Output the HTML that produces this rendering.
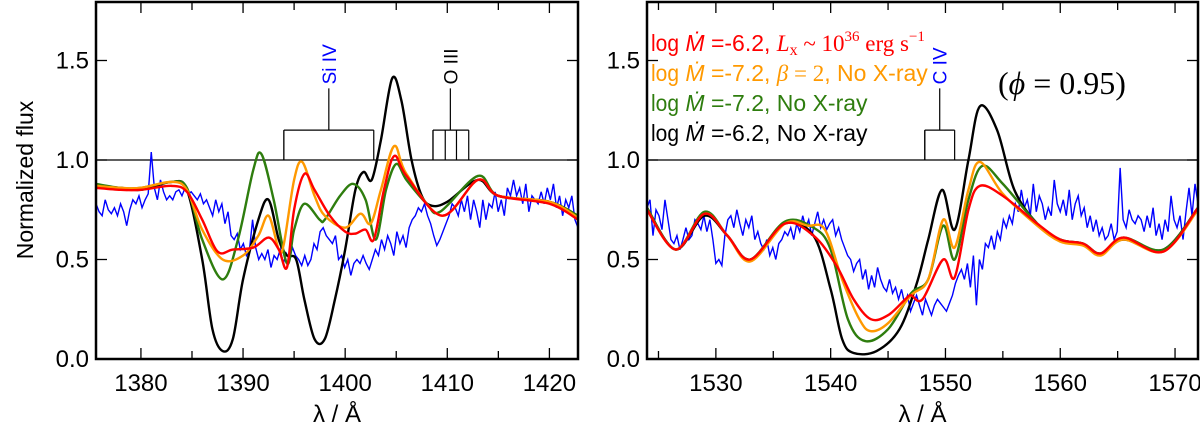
<!DOCTYPE html>
<html><head><meta charset="utf-8"><style>
body{margin:0;background:#fff;}
svg{display:block;font-family:"Liberation Sans",sans-serif;}
</style></head><body>
<svg id="c" width="1200" height="433" viewBox="0 0 1200 433"></svg>
<script>
// ---- data ----
const leftTicks=[1380,1390,1400,1410,1420];
const rightTicks=[1530,1540,1550,1560,1570];
const yTicks=[0.0,0.5,1.0,1.5];
const yTickLabels=["0.0","0.5","1.0","1.5"];
// left panel (Si IV)
const L_black_x=[1375.6,1378,1380,1383,1384.5,1386,1387,1388,1389,1390,1391.5,1392.5,1393.5,1394.3,1395.2,1396,1397,1398,1399,1400,1401,1401.8,1402.6,1403.5,1404.6,1405.5,1406.5,1407.5,1408.5,1410,1413,1415,1420,1422.8];
const L_black_y=[0.87,0.86,0.85,0.89,0.85,0.5,0.15,0.04,0.1,0.4,0.7,0.8,0.6,0.52,0.5,0.3,0.1,0.1,0.3,0.55,0.85,0.94,0.9,1.1,1.41,1.3,1.0,0.82,0.77,0.79,0.9,0.82,0.79,0.72];
const L_green_x=[1375.6,1378,1380,1383,1384.5,1386,1388,1389.5,1391,1391.8,1393,1394.3,1395,1396,1397.5,1398,1399.5,1400.8,1402,1403,1404,1405,1406,1408,1409.3,1413,1415,1420,1422.8];
const L_green_y=[0.88,0.86,0.86,0.89,0.86,0.6,0.4,0.6,0.95,1.03,0.8,0.48,0.65,0.78,0.7,0.7,0.82,0.88,0.8,0.6,0.85,0.98,0.9,0.78,0.74,0.92,0.82,0.79,0.72];
const L_orange_x=[1375.6,1378,1380,1383,1384.5,1386,1388,1390,1391.5,1392.5,1393.5,1394,1395,1395.8,1397,1398,1400,1401.5,1402.5,1403.5,1404.8,1406,1409.5,1413,1415,1420,1422.8];
const L_orange_y=[0.87,0.86,0.86,0.89,0.85,0.65,0.5,0.52,0.62,0.72,0.55,0.58,0.9,0.99,0.82,0.72,0.66,0.73,0.68,0.85,1.07,0.93,0.72,0.9,0.82,0.79,0.71];
const L_red_x=[1375.6,1378,1380,1383,1384.5,1386,1387.5,1389,1391,1392.5,1393.5,1394.3,1395,1396,1397,1398.5,1400,1401,1402,1402.8,1403.8,1404.8,1406,1409.5,1413,1415,1420,1422.8];
const L_red_y=[0.86,0.85,0.85,0.87,0.84,0.7,0.54,0.55,0.56,0.61,0.55,0.46,0.75,0.93,0.85,0.72,0.64,0.63,0.65,0.6,0.85,1.02,0.92,0.72,0.9,0.82,0.78,0.7];
const L_obs_start=1375.6, L_obs_end=1422.8;
const L_obs=[0.78,0.74,0.72,0.8,0.75,0.73,0.76,0.72,0.78,0.74,0.67,0.75,0.8,0.78,0.82,0.76,0.8,0.83,1.04,0.86,0.8,0.9,0.84,0.8,0.82,0.8,0.84,0.85,0.82,0.86,0.83,0.84,0.82,0.8,0.83,0.78,0.8,0.76,0.72,0.8,0.74,0.78,0.68,0.74,0.62,0.6,0.63,0.55,0.58,0.52,0.55,0.7,0.56,0.5,0.53,0.5,0.55,0.46,0.52,0.5,0.55,0.48,0.53,0.5,0.56,0.52,0.5,0.47,0.52,0.47,0.5,0.58,0.55,0.64,0.66,0.62,0.6,0.58,0.62,0.5,0.52,0.46,0.5,0.42,0.48,0.5,0.48,0.52,0.48,0.45,0.5,0.55,0.52,0.6,0.55,0.62,0.58,0.52,0.64,0.58,0.62,0.56,0.66,0.7,0.72,0.76,0.74,0.78,0.72,0.68,0.62,0.57,0.6,0.64,0.68,0.72,0.78,0.76,0.72,0.8,0.74,0.82,0.7,0.8,0.74,0.66,0.8,0.7,0.78,0.76,0.84,0.74,0.8,0.72,0.86,0.82,0.9,0.82,0.86,0.78,0.88,0.74,0.82,0.8,0.78,0.84,0.78,0.86,0.8,0.88,0.76,0.82,0.72,0.8,0.76,0.82,0.7,0.66];
// right panel (C IV)
const R_black_x=[1524,1526.5,1529,1531,1533,1536,1538.5,1540,1541,1542,1544,1546,1547.5,1548.5,1549.7,1550.8,1552,1553,1554.5,1556,1558,1560,1562,1563.5,1565.5,1569,1572];
const R_black_y=[0.76,0.55,0.72,0.62,0.5,0.68,0.62,0.35,0.1,0.03,0.04,0.15,0.38,0.6,0.85,0.65,1.0,1.27,1.15,0.85,0.68,0.6,0.58,0.53,0.6,0.55,0.76];
const R_green_x=[1524,1526.5,1529,1531,1533,1536,1538.5,1540,1541.5,1543,1545,1547,1548.5,1549.8,1550.8,1552,1553.2,1555,1558,1560,1562,1563.5,1565.5,1569,1572];
const R_green_y=[0.76,0.55,0.74,0.62,0.5,0.69,0.66,0.55,0.2,0.09,0.15,0.33,0.4,0.67,0.5,0.8,0.97,0.88,0.68,0.6,0.58,0.53,0.61,0.55,0.76];
const R_orange_x=[1524,1526.5,1529,1531,1533,1536,1538,1539.5,1541,1542.5,1543.5,1545,1547,1548.5,1549.8,1550.8,1552,1553,1555,1558,1560,1562,1563.5,1565.5,1569,1572];
const R_orange_y=[0.75,0.55,0.73,0.62,0.49,0.68,0.67,0.65,0.4,0.2,0.14,0.18,0.32,0.4,0.7,0.56,0.85,0.99,0.83,0.67,0.59,0.57,0.52,0.6,0.54,0.75];
const R_red_x=[1524,1526.5,1529,1531,1533,1536,1538.5,1540.5,1542,1543.5,1545,1546.5,1547,1548,1549.8,1550.8,1552,1553,1555,1558,1560,1562,1563.5,1565.5,1569,1572];
const R_red_y=[0.75,0.55,0.73,0.62,0.5,0.68,0.62,0.47,0.3,0.2,0.22,0.3,0.32,0.3,0.5,0.41,0.75,0.87,0.82,0.68,0.6,0.58,0.53,0.61,0.54,0.76];
const R_obs_start=1524, R_obs_end=1572;
const R_obs=[0.76,0.8,0.62,0.75,0.72,0.65,0.8,0.7,0.6,0.58,0.62,0.55,0.6,0.66,0.6,0.62,0.7,0.68,0.65,0.72,0.64,0.7,0.6,0.48,0.5,0.47,0.62,0.7,0.72,0.66,0.75,0.68,0.62,0.7,0.66,0.72,0.6,0.64,0.58,0.55,0.6,0.52,0.56,0.5,0.58,0.6,0.64,0.62,0.66,0.6,0.68,0.64,0.72,0.66,0.7,0.62,0.68,0.74,0.66,0.7,0.65,0.68,0.7,0.62,0.66,0.6,0.56,0.52,0.5,0.44,0.48,0.5,0.4,0.45,0.35,0.42,0.36,0.46,0.4,0.36,0.34,0.4,0.33,0.36,0.3,0.35,0.28,0.32,0.24,0.28,0.32,0.27,0.22,0.3,0.26,0.22,0.27,0.3,0.28,0.26,0.24,0.28,0.32,0.38,0.42,0.45,0.4,0.48,0.36,0.52,0.27,0.5,0.45,0.58,0.56,0.62,0.55,0.64,0.6,0.7,0.66,0.72,0.68,0.78,0.74,0.85,0.76,0.8,0.72,0.88,0.74,0.82,0.78,0.7,0.76,0.72,0.9,0.78,0.74,0.8,0.72,0.85,0.7,0.78,0.82,0.72,0.76,0.66,0.72,0.64,0.7,0.62,0.66,0.6,0.62,0.68,0.6,0.64,0.96,0.7,0.66,0.75,0.7,0.68,0.72,0.7,0.64,0.72,0.66,0.76,0.62,0.68,0.6,0.7,0.64,0.82,0.7,0.66,0.72,0.6,0.74,0.86,0.72,0.88,0.78];

// ---- drawing ----
const NS="http://www.w3.org/2000/svg";
const svg=document.getElementById('c');
function el(tag,attrs,parent){const e=document.createElementNS(NS,tag);for(const k in attrs)e.setAttribute(k,attrs[k]);(parent||svg).appendChild(e);return e;}
const Y0=359, YPU=199;
function sy(v){return Y0-v*YPU;}
const panels=[
 {x0:96,x1:578,lo:1375.6,hi:1422.8,ticks:leftTicks,name:'left'},
 {x0:647,x1:1198,lo:1524,hi:1572,ticks:rightTicks,name:'right'}];
function mk(p){return v=>p.x0+(v-p.lo)/(p.hi-p.lo)*(p.x1-p.x0);}
function smooth(pts){let d=`M${pts[0][0]},${pts[0][1]}`;for(let i=0;i<pts.length-1;i++){const p0=pts[i-1]||pts[i],p1=pts[i],p2=pts[i+1],p3=pts[i+2]||p2;const c1=[p1[0]+(p2[0]-p0[0])/6,p1[1]+(p2[1]-p0[1])/6],c2=[p2[0]-(p3[0]-p1[0])/6,p2[1]-(p3[1]-p1[1])/6];d+=` C${c1[0]},${c1[1]} ${c2[0]},${c2[1]} ${p2[0]},${p2[1]}`;}return d;}

panels.forEach((p,pi)=>{
 const sx=mk(p);
 const g=el('g',{});
 
 
 const cp=el('clipPath',{id:'clip'+pi},g);el('rect',{x:p.x0,y:2,width:p.x1-p.x0,height:Y0-2},cp);
 for(let v=Math.ceil(p.lo/5)*5;v<=p.hi;v+=5){const major=v%10===0;const X=sx(v);
  const t1=el('line',{x1:X,y1:Y0,x2:X,y2:Y0-(major?11:8),stroke:'#000','stroke-width':1.3},g);
  
  el('line',{x1:X,y1:2,x2:X,y2:2+(major?11:8),stroke:'#000','stroke-width':1.3},g);}
 p.ticks.forEach(v=>{const t=el('text',{x:sx(v),y:391,'text-anchor':'middle','font-size':24},g);t.textContent=v;
  });
 yTicks.forEach((v,i)=>{el('line',{x1:p.x0,y1:sy(v),x2:p.x0+11,y2:sy(v),stroke:'#000','stroke-width':1.3},g);
  el('line',{x1:p.x1,y1:sy(v),x2:p.x1-11,y2:sy(v),stroke:'#000','stroke-width':1.3},g);
  const t=el('text',{x:p.x0-7,y:sy(v)+8,'text-anchor':'end','font-size':24},g);t.textContent=yTickLabels[i];
  });
 el('line',{x1:p.x0,y1:sy(1),x2:p.x1,y2:sy(1),stroke:'#000','stroke-width':1.2},g);
 const xt=el('text',{x:(p.x0+p.x1)/2,y:422,'text-anchor':'middle','font-size':24},g);xt.textContent='λ / Å';
 
 const cg=el('g',{'clip-path':`url(#clip${pi})`},g);
 const obs=pi?R_obs:L_obs, st=pi?R_obs_start:L_obs_start, en=pi?R_obs_end:L_obs_end;
 const step=(en-st)/(obs.length-1);
 const op=el('polyline',{points:obs.map((v,i)=>`${sx(st+i*step)},${sy(v)}`).join(' '),fill:'none',stroke:'#0000ff','stroke-width':1.4},cg);
 
 const series=pi?[[R_black_x,R_black_y,'#000','black'],[R_green_x,R_green_y,'#2e7d0e','green'],[R_orange_x,R_orange_y,'#ff9900','orange'],[R_red_x,R_red_y,'#ff0000','red']]
   :[[L_black_x,L_black_y,'#000','black'],[L_green_x,L_green_y,'#2e7d0e','green'],[L_orange_x,L_orange_y,'#ff9900','orange'],[L_red_x,L_red_y,'#ff0000','red']];
 series.forEach(s=>{const path=el('path',{d:smooth(s[0].map((x,i)=>[sx(x),sy(s[1][i])])),fill:'none',stroke:s[2],'stroke-width':2.4},cg);
  });
 const fr=el('rect',{x:p.x0,y:2,width:p.x1-p.x0,height:Y0-2,fill:'none',stroke:'#000','stroke-width':2.5},g);
 
});
function marker(p,edges,stemX,label,color,name){
 const sx=mk(p);const g=el('g',{stroke:'#000','stroke-width':1.2,fill:'none'});
 
 el('line',{x1:sx(edges[0]),y1:sy(1),x2:sx(edges[0]),y2:sy(1.15)},g);
 el('line',{x1:sx(edges[0]),y1:sy(1.15),x2:sx(edges[edges.length-1]),y2:sy(1.15)},g);
 edges.forEach(e=>el('line',{x1:sx(e),y1:sy(1),x2:sx(e),y2:sy(1.15)},g));
 el('line',{x1:sx(stemX),y1:sy(1.15),x2:sx(stemX),y2:sy(1.36)},g);
 const t=el('text',{x:0,y:0,transform:`translate(${sx(stemX)+7},${sy(1.38)}) rotate(-90)`,'font-size':19,fill:color,stroke:'none','text-anchor':'start'},g);t.textContent=label;
}
marker(panels[0],[1394,1402.8],1398.4,'Si IV','#0000ff','si-iv-marker');
marker(panels[0],[1408.6,1409.8,1410.9,1412.1],1410.3,'O III','#000','o-iii-marker');
marker(panels[1],[1548.2,1550.8],1549.5,'C IV','#0000ff','c-iv-marker');
const yt=el('text',{x:0,y:0,transform:'translate(33,180) rotate(-90)','text-anchor':'middle','font-size':23});yt.textContent='Normalized flux';

const leg=[['#ff0000',51,'=-6.2,  ','<tspan font-family="Liberation Serif" font-style="italic">L</tspan><tspan font-family="Liberation Serif" font-size="16" dy="4">x</tspan><tspan font-family="Liberation Serif" dy="-4"> ~ 10</tspan><tspan font-family="Liberation Serif" font-size="15" dy="-10">36</tspan><tspan font-family="Liberation Serif" dy="10"> erg s</tspan><tspan font-family="Liberation Serif" font-size="15" dy="-10">−1</tspan>'],
 ['#ff9900',81,'=-7.2,  ','<tspan font-family="Liberation Serif" font-style="italic">β</tspan><tspan font-family="Liberation Serif"> = 2</tspan>, No X-ray'],
 ['#2e7d0e',111,'=-7.2, No X-ray',''],
 ['#000',141,'=-6.2, No X-ray','']];
leg.forEach((l,i)=>{const t=el('text',{x:651,y:l[1],'font-size':23,fill:l[0]});
 t.innerHTML=`<tspan textLength="28" lengthAdjust="spacingAndGlyphs">log</tspan> <tspan font-style="italic">Ṁ</tspan> ${l[2]}${l[3]}`;
 });
const ph=el('text',{x:998,y:94,'font-size':32,'font-family':'Liberation Serif'});
ph.innerHTML='(<tspan font-style="italic">ϕ</tspan> = 0.95)';

</script>
</body></html>
